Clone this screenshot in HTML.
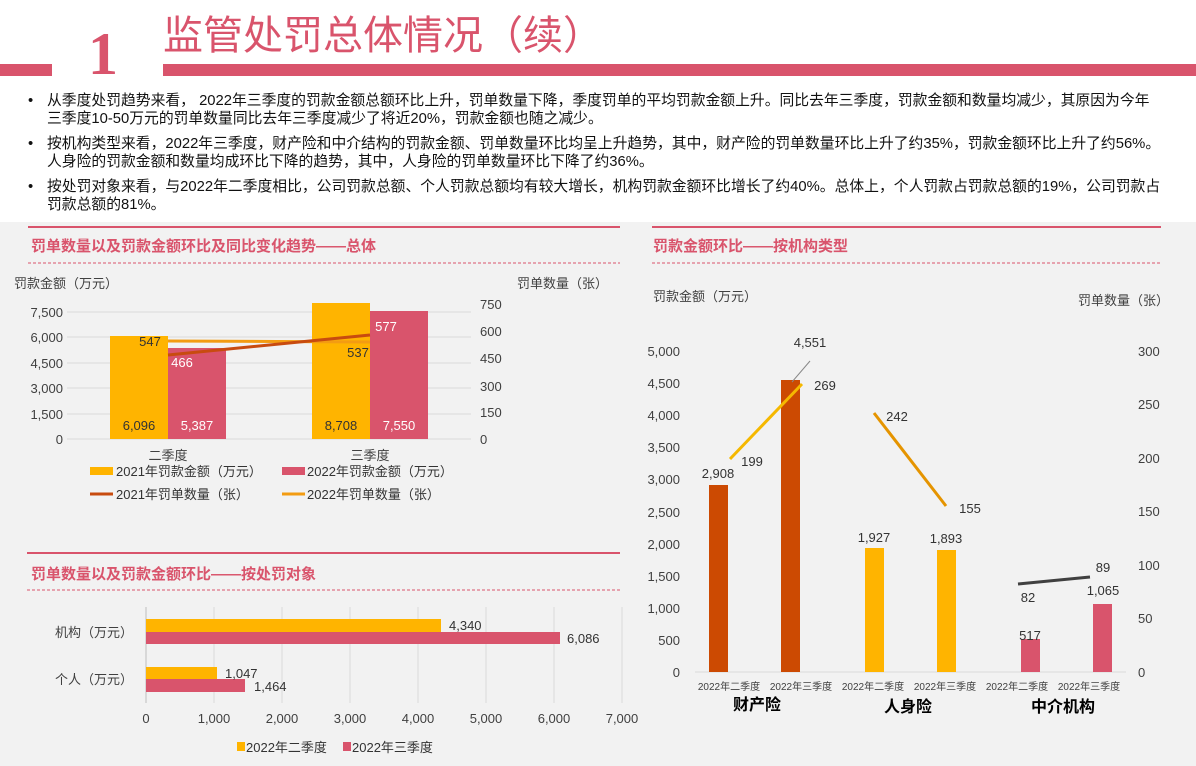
<!DOCTYPE html>
<html><head><meta charset="utf-8"><style>
body{margin:0;width:1196px;height:766px;overflow:hidden;background:#fff;font-family:"Liberation Sans","Noto Sans CJK SC",sans-serif;position:relative}
.a{position:absolute;white-space:nowrap}
.b{font-size:14.8px;color:#111;line-height:18px}
</style></head><body>
<div class="a" style="left:0;top:64px;width:52px;height:12px;background:#d9546c"></div>
<div class="a" style="left:163px;top:64px;width:1033px;height:12px;background:#d9546c"></div>
<div class="a" style="left:88px;top:22px;font-family:'Liberation Serif',serif;font-weight:bold;font-size:60px;color:#d9546c;line-height:64px">1</div>
<div class="a" style="left:163px;top:12px;font-family:'Liberation Sans','Noto Sans CJK SC',sans-serif;font-size:40px;color:#d9546c;line-height:48px">监管处罚总体情况（续）</div>
<div class="a b" style="left:28px;top:92px">•</div>
<div class="a b" style="left:47px;top:92px">从季度处罚趋势来看， 2022年三季度的罚款金额总额环比上升，罚单数量下降，季度罚单的平均罚款金额上升。同比去年三季度，罚款金额和数量均减少，其原因为今年<br>三季度10-50万元的罚单数量同比去年三季度减少了将近20%，罚款金额也随之减少。</div>
<div class="a b" style="left:28px;top:135px">•</div>
<div class="a b" style="left:47px;top:135px">按机构类型来看，2022年三季度，财产险和中介结构的罚款金额、罚单数量环比均呈上升趋势，其中，财产险的罚单数量环比上升了约35%，罚款金额环比上升了约56%。<br>人身险的罚款金额和数量均成环比下降的趋势，其中，人身险的罚单数量环比下降了约36%。</div>
<div class="a b" style="left:28px;top:178px">•</div>
<div class="a b" style="left:47px;top:178px">按处罚对象来看，与2022年二季度相比，公司罚款总额、个人罚款总额均有较大增长，机构罚款金额环比增长了约40%。总体上，个人罚款占罚款总额的19%，公司罚款占<br>罚款总额的81%。</div>
<div class="a" style="left:0;top:222px;width:1196px;height:544px;background:#f2f2f2"></div>
<svg class="a" style="left:0;top:0" width="1196" height="766" font-family="Liberation Sans, Noto Sans CJK SC, sans-serif">
<line x1="28" y1="227" x2="620" y2="227" stroke="#d9546c" stroke-width="2"/>
<text x="31" y="251" font-size="15" font-weight="bold" fill="#d9546c">罚单数量以及罚款金额环比及同比变化趋势——总体</text>
<line x1="28" y1="263" x2="620" y2="263" stroke="#d9546c" stroke-dasharray="3,2"/>
<text x="14" y="288" font-size="13" fill="#404040">罚款金额（万元）</text>
<text x="517" y="288" font-size="13" fill="#404040">罚单数量（张）</text>
<g stroke="#d9d9d9"><line x1="67" y1="312" x2="471" y2="312"/><line x1="67" y1="337" x2="471" y2="337"/><line x1="67" y1="363" x2="471" y2="363"/><line x1="67" y1="388" x2="471" y2="388"/><line x1="67" y1="414" x2="471" y2="414"/><line x1="67" y1="439" x2="471" y2="439"/></g>
<g font-size="13" fill="#404040" text-anchor="end"><text x="63" y="317">7,500</text><text x="63" y="342">6,000</text><text x="63" y="368">4,500</text><text x="63" y="393">3,000</text><text x="63" y="419">1,500</text><text x="63" y="444">0</text></g>
<g font-size="13" fill="#404040"><text x="480" y="309">750</text><text x="480" y="336">600</text><text x="480" y="363">450</text><text x="480" y="391">300</text><text x="480" y="417">150</text><text x="480" y="444">0</text></g>
<rect x="110" y="336" width="58" height="103" fill="#ffb400"/><rect x="168" y="348" width="58" height="91" fill="#d9546c"/>
<rect x="312" y="303" width="58" height="136" fill="#ffb400"/><rect x="370" y="311" width="58" height="128" fill="#d9546c"/>
<line x1="168" y1="341" x2="370" y2="342" stroke="#f39c12" stroke-width="3"/>
<line x1="168" y1="355" x2="370" y2="335" stroke="#c84b0f" stroke-width="3"/>
<g font-size="13"><text x="150" y="346" text-anchor="middle" fill="#333">547</text><text x="182" y="367" text-anchor="middle" fill="#fff">466</text><text x="386" y="331" text-anchor="middle" fill="#fff">577</text><text x="358" y="357" text-anchor="middle" fill="#333">537</text>
<text x="139" y="430" text-anchor="middle" fill="#333">6,096</text><text x="197" y="430" text-anchor="middle" fill="#fff">5,387</text><text x="341" y="430" text-anchor="middle" fill="#333">8,708</text><text x="399" y="430" text-anchor="middle" fill="#fff">7,550</text>
<text x="168" y="460" text-anchor="middle" fill="#404040">二季度</text><text x="370" y="460" text-anchor="middle" fill="#404040">三季度</text>
<rect x="90" y="467" width="23" height="8" fill="#ffb400"/><text x="116" y="476" fill="#333">2021年罚款金额（万元）</text>
<rect x="282" y="467" width="23" height="8" fill="#d9546c"/><text x="307" y="476" fill="#333">2022年罚款金额（万元）</text>
<line x1="90" y1="494" x2="113" y2="494" stroke="#c84b0f" stroke-width="3"/><text x="116" y="499" fill="#333">2021年罚单数量（张）</text>
<line x1="282" y1="494" x2="305" y2="494" stroke="#f39c12" stroke-width="3"/><text x="307" y="499" fill="#333">2022年罚单数量（张）</text></g>
<line x1="27" y1="553" x2="620" y2="553" stroke="#d9546c" stroke-width="2"/>
<text x="31" y="579" font-size="15" font-weight="bold" fill="#d9546c">罚单数量以及罚款金额环比——按处罚对象</text>
<line x1="27" y1="590" x2="620" y2="590" stroke="#d9546c" stroke-dasharray="3,2"/>
<g stroke="#d9d9d9"><line x1="214" y1="607" x2="214" y2="703"/><line x1="282" y1="607" x2="282" y2="703"/><line x1="350" y1="607" x2="350" y2="703"/><line x1="418" y1="607" x2="418" y2="703"/><line x1="486" y1="607" x2="486" y2="703"/><line x1="554" y1="607" x2="554" y2="703"/><line x1="622" y1="607" x2="622" y2="703"/><line x1="146" y1="607" x2="146" y2="703" stroke="#bfbfbf"/></g>
<rect x="146" y="619" width="295" height="13" fill="#ffb400"/><rect x="146" y="632" width="414" height="12" fill="#d9546c"/>
<rect x="146" y="667" width="71" height="12" fill="#ffb400"/><rect x="146" y="679" width="99" height="13" fill="#d9546c"/>
<g font-size="13" fill="#333"><text x="449" y="630">4,340</text><text x="567" y="643">6,086</text><text x="225" y="678">1,047</text><text x="254" y="691">1,464</text>
<text x="55" y="637" fill="#404040">机构（万元）</text><text x="55" y="684" fill="#404040">个人（万元）</text></g>
<g font-size="13" fill="#404040" text-anchor="middle"><text x="146" y="723">0</text><text x="214" y="723">1,000</text><text x="282" y="723">2,000</text><text x="350" y="723">3,000</text><text x="418" y="723">4,000</text><text x="486" y="723">5,000</text><text x="554" y="723">6,000</text><text x="622" y="723">7,000</text></g>
<rect x="237" y="742" width="8" height="9" fill="#ffb400"/><text x="246" y="752" font-size="13" fill="#333">2022年二季度</text>
<rect x="343" y="742" width="8" height="9" fill="#d9546c"/><text x="352" y="752" font-size="13" fill="#333">2022年三季度</text>
<line x1="652" y1="227" x2="1161" y2="227" stroke="#d9546c" stroke-width="2"/>
<text x="653" y="251" font-size="15" font-weight="bold" fill="#d9546c">罚款金额环比——按机构类型</text>
<line x1="652" y1="263" x2="1161" y2="263" stroke="#d9546c" stroke-dasharray="3,2"/>
<text x="653" y="301" font-size="13" fill="#404040">罚款金额（万元）</text>
<text x="1078" y="305" font-size="13" fill="#404040">罚单数量（张）</text>
<g font-size="13" fill="#404040" text-anchor="end"><text x="680" y="356">5,000</text><text x="680" y="388">4,500</text><text x="680" y="420">4,000</text><text x="680" y="452">3,500</text><text x="680" y="484">3,000</text><text x="680" y="517">2,500</text><text x="680" y="549">2,000</text><text x="680" y="581">1,500</text><text x="680" y="613">1,000</text><text x="680" y="645">500</text><text x="680" y="677">0</text></g>
<g font-size="13" fill="#404040"><text x="1138" y="356">300</text><text x="1138" y="409">250</text><text x="1138" y="463">200</text><text x="1138" y="516">150</text><text x="1138" y="570">100</text><text x="1138" y="623">50</text><text x="1138" y="677">0</text></g>
<line x1="695" y1="672" x2="1126" y2="672" stroke="#d9d9d9"/>
<rect x="709" y="485" width="19" height="187" fill="#cc4a02"/><rect x="781" y="380" width="19" height="292" fill="#cc4a02"/>
<rect x="865" y="548" width="19" height="124" fill="#ffb400"/><rect x="937" y="550" width="19" height="122" fill="#ffb400"/>
<rect x="1021" y="639" width="19" height="33" fill="#d9546c"/><rect x="1093" y="604" width="19" height="68" fill="#d9546c"/>
<line x1="730" y1="459" x2="802" y2="384" stroke="#f5b800" stroke-width="3"/>
<line x1="874" y1="413" x2="946" y2="506" stroke="#e59400" stroke-width="3"/>
<line x1="1018" y1="584" x2="1090" y2="577" stroke="#404040" stroke-width="3"/>
<line x1="810" y1="361" x2="792" y2="382" stroke="#888"/>
<g font-size="13" fill="#333" text-anchor="middle"><text x="718" y="478">2,908</text><text x="752" y="466">199</text><text x="810" y="347">4,551</text><text x="825" y="390">269</text><text x="897" y="421">242</text><text x="970" y="513">155</text><text x="874" y="542">1,927</text><text x="946" y="543">1,893</text><text x="1028" y="602">82</text><text x="1103" y="572">89</text><text x="1030" y="640">517</text><text x="1103" y="595">1,065</text></g>
<g font-size="10" fill="#404040" text-anchor="middle"><text x="729" y="690">2022年二季度</text><text x="801" y="690">2022年三季度</text><text x="873" y="690">2022年二季度</text><text x="945" y="690">2022年三季度</text><text x="1017" y="690">2022年二季度</text><text x="1089" y="690">2022年三季度</text></g>
<g font-size="16" font-weight="bold" fill="#000" text-anchor="middle"><text x="757" y="710">财产险</text><text x="908" y="712">人身险</text><text x="1063" y="712">中介机构</text></g>
</svg>
</body></html>
